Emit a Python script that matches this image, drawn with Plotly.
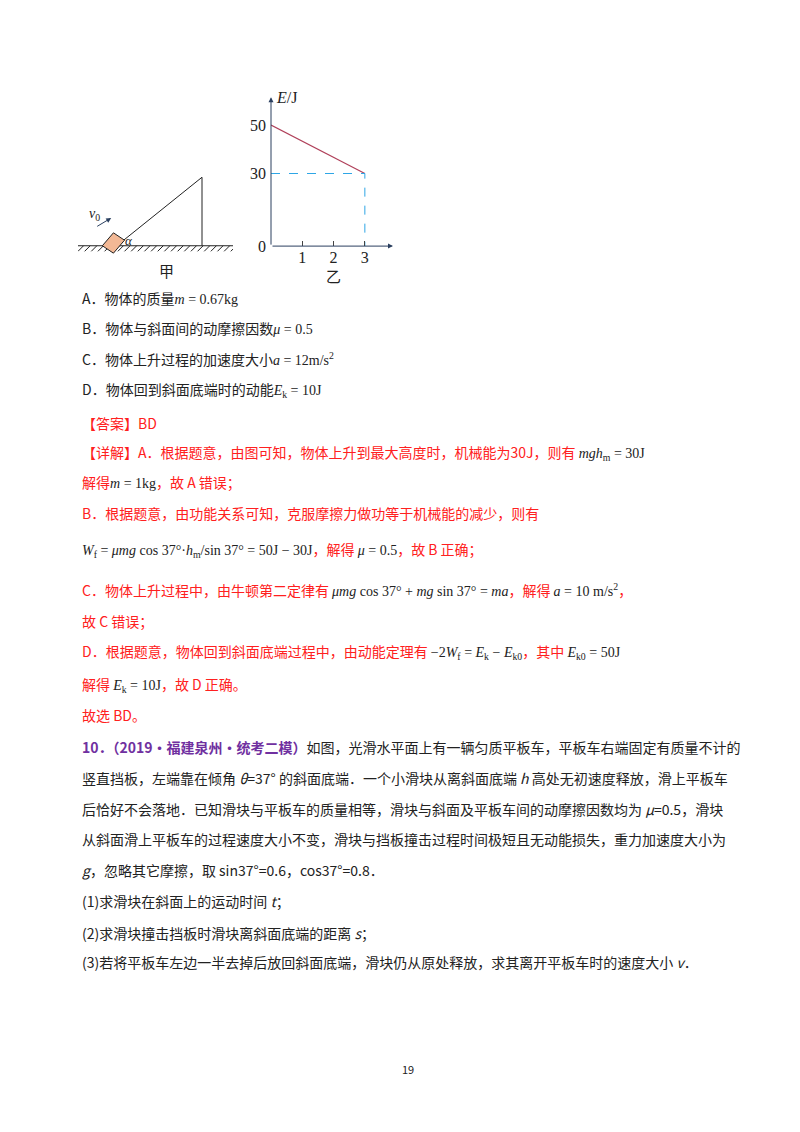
import plotly.graph_objects as go

# chart data (乙): mechanical energy E vs height h
h_line = [0, 3]
e_line = [50, 30]
x_ticks = [1, 2, 3]
y_ticks = [0, 30, 50]

W, H = 800, 1132
RED = "#ff2020"
BLK = "#222222"
FONT = "Noto Sans CJK SC"
SERIF = "Liberation Serif"


def py(y):
    return 1 - (y - 3) / H


fig = go.Figure()

# chart 乙
fig.add_trace(go.Scatter(x=h_line, y=e_line, mode="lines",
                         line=dict(color="#b0405a", width=1.2),
                         xaxis="x", yaxis="y", showlegend=False))
fig.add_trace(go.Scatter(x=[0, 3, 3], y=[30, 30, 0], mode="lines",
                         line=dict(color="#2ea6e6", width=1, dash="dash"),
                         xaxis="x", yaxis="y", showlegend=False))

fig.update_layout(
    width=W, height=H, margin=dict(l=0, r=0, t=0, b=0),
    paper_bgcolor="white", plot_bgcolor="white", showlegend=False,
    font=dict(family=FONT, size=14, color=BLK),
    xaxis=dict(domain=[263 / W, 385 / W], range=[0, 3.9], showgrid=False, zeroline=False,
               showline=False, tickvals=x_ticks, ticks="inside", ticklen=5,
               tickfont=dict(family=SERIF, size=16), fixedrange=True),
    yaxis=dict(domain=[py(243), py(93)], range=[0, 61.5], showgrid=False, zeroline=False,
               showline=False, tickvals=y_ticks, ticks="", ticklabelstandoff=4,
               tickfont=dict(family=SERIF, size=16), fixedrange=True),
    xaxis2=dict(domain=[70 / W, 225 / W], range=[0, 140], visible=False, fixedrange=True),
    yaxis2=dict(domain=[py(252), py(168)], range=[0, 90], visible=False, fixedrange=True),
)

# axes with arrows
fig.add_annotation(x=3.9, y=0, ax=0, ay=0, xref="x", yref="y", axref="x", ayref="y",
                   showarrow=True, arrowhead=2, arrowsize=1, arrowwidth=1, text="")
fig.add_annotation(x=0, y=61.5, ax=0, ay=0, xref="x", yref="y", axref="x", ayref="y",
                   showarrow=True, arrowhead=2, arrowsize=1, arrowwidth=1, text="")
fig.add_annotation(x=4.0, y=0, xref="x", yref="y", text="<i>h</i> /m", showarrow=False,
                   xanchor="left", font=dict(family=SERIF, size=16))
fig.add_annotation(x=0.1, y=61.5, xref="x", yref="y", text="<i>E</i>/J", showarrow=False,
                   xanchor="left", font=dict(family=SERIF, size=16))
fig.add_annotation(x=2.0, y=py(273), xref="x", yref="paper", yanchor="middle", text="乙",
                   showarrow=False, font=dict(size=15))

# illustration 甲
s = dict(xref="x2", yref="y2", line=dict(color=BLK, width=1))
fig.add_shape(type="line", x0=0, y0=10, x1=140, y1=10, **s)
for i in range(0, 140, 6):
    fig.add_shape(type="line", x0=i, y0=4, x1=i + 5, y1=10, **s)
fig.add_shape(type="line", x0=35, y0=10, x1=112, y1=84, **s)
fig.add_shape(type="line", x0=112, y0=10, x1=112, y1=84, **s)
fig.add_shape(type="path", path="M 22 10 L 32 24 L 42 16 L 32 2 Z",
              xref="x2", yref="y2", fillcolor="#f2b895", line=dict(color=BLK, width=1))
fig.add_annotation(x=30, y=40, ax=16, ay=30, xref="x2", yref="y2", axref="x2", ayref="y2",
                   showarrow=True, arrowhead=2, arrowsize=1, arrowwidth=1, text="")
fig.add_annotation(x=15, y=44, xref="x2", yref="y2", text="<i>v</i><sub>0</sub>",
                   showarrow=False, font=dict(family=SERIF, size=14))
fig.add_annotation(x=46, y=16, xref="x2", yref="y2", text="<i>α</i>",
                   showarrow=False, font=dict(family=SERIF, size=13))
fig.add_annotation(x=80 / 140, y=py(268), xref="x2 domain", yref="paper", yanchor="middle",
                   text="甲", showarrow=False, font=dict(size=15))

sp = "<span style='font-family:Liberation Serif;color:#222'>"
lines = [
    (295, BLK, "A．物体的质量" + sp + "<i>m</i> = 0.67kg</span>"),
    (326, BLK, "B．物体与斜面间的动摩擦因数" + sp + "<i>μ</i> = 0.5</span>"),
    (357, BLK, "C．物体上升过程的加速度大小" + sp + "<i>a</i> = 12m/s<sup>2</sup></span>"),
    (388, BLK, "D．物体回到斜面底端时的动能" + sp + "<i>E</i><sub>k</sub> = 10J</span>"),
    (421, RED, "【答案】BD"),
    (451, RED, "【详解】A．根据题意，由图可知，物体上升到最大高度时，机械能为30J，则有 " + sp + "<i>mgh</i><sub>m</sub> = 30J</span>"),
    (481, RED, "解得" + sp + "<i>m</i> = 1kg</span>，故 A 错误；"),
    (512, RED, "B．根据题意，由功能关系可知，克服摩擦力做功等于机械能的减少，则有"),
    (549, RED, sp + "<i>W</i><sub>f</sub> = <i>μmg</i> cos 37°·<i>h</i><sub>m</sub>/sin 37° = 50J − 30J</span>，解得 " + sp + "<i>μ</i> = 0.5</span>，故 B 正确；"),
    (590, RED, "C．物体上升过程中，由牛顿第二定律有 " + sp + "<i>μmg</i> cos 37° + <i>mg</i> sin 37° = <i>ma</i></span>，解得 " + sp + "<i>a</i> = 10 m/s<sup>2</sup></span>，"),
    (621, RED, "故 C 错误；"),
    (652, RED, "D．根据题意，物体回到斜面底端过程中，由动能定理有 " + sp + "−2<i>W</i><sub>f</sub> = <i>E</i><sub>k</sub> − <i>E</i><sub>k0</sub></span>，其中 " + sp + "<i>E</i><sub>k0</sub> = 50J</span>"),
    (685, RED, "解得 " + sp + "<i>E</i><sub>k</sub> = 10J</span>，故 D 正确。"),
    (716, RED, "故选 BD。"),
    (748, BLK, "<b><span style='color:#7030a0'>10．（2019·福建泉州·统考二模）</span></b>如图，光滑水平面上有一辆匀质平板车，平板车右端固定有质量不计的"),
    (779, BLK, "竖直挡板，左端靠在倾角 <i>θ</i>=37° 的斜面底端．一个小滑块从离斜面底端 <i>h</i> 高处无初速度释放，滑上平板车"),
    (810, BLK, "后恰好不会落地．已知滑块与平板车的质量相等，滑块与斜面及平板车间的动摩擦因数均为 <i>μ</i>=0.5，滑块"),
    (841, BLK, "从斜面滑上平板车的过程速度大小不变，滑块与挡板撞击过程时间极短且无动能损失，重力加速度大小为"),
    (872, BLK, "<i>g</i>，忽略其它摩擦，取 sin37°=0.6，cos37°=0.8．"),
    (903, BLK, "(1)求滑块在斜面上的运动时间 <i>t</i>；"),
    (935, BLK, "(2)求滑块撞击挡板时滑块离斜面底端的距离 <i>s</i>；"),
    (965, BLK, "(3)若将平板车左边一半去掉后放回斜面底端，滑块仍从原处释放，求其离开平板车时的速度大小 <i>v</i>．"),
]
for y, c, t in lines:
    fig.add_annotation(x=72 / W, y=py(y), xref="paper", yref="paper", text=t,
                       showarrow=False, xanchor="left", yanchor="middle",
                       font=dict(family=FONT, size=14, color=c))

fig.add_annotation(x=0.5, y=py(1072), xref="paper", yref="paper", text="19",
                   showarrow=False, yanchor="middle", font=dict(size=11, color=BLK))

fig.write_html("out.html")
